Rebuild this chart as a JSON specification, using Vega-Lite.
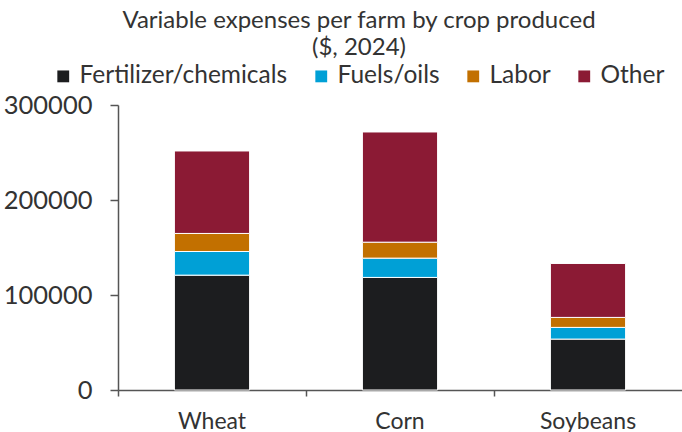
{
  "$schema": "https://vega.github.io/schema/vega-lite/v6.json",
  "width": 564,
  "height": 285,
  "autosize": {"type": "none"},
  "padding": {"left": 118, "top": 105, "right": 0, "bottom": 42},
  "background": "white",
  "title": {
    "text": ["Variable expenses per farm by crop produced", "($, 2024)"],
    "anchor": "middle",
    "dx": -41,
    "fontSize": 24,
    "fontWeight": "normal",
    "font": "Lato",
    "color": "#333333",
    "lineHeight": 27,
    "offset": 4
  },
  "data": {
    "values": [
      {"crop": "Wheat", "category": "Fertilizer/chemicals", "order": 1, "value": 120900},
      {"crop": "Wheat", "category": "Fuels/oils", "order": 2, "value": 24900},
      {"crop": "Wheat", "category": "Labor", "order": 3, "value": 19000},
      {"crop": "Wheat", "category": "Other", "order": 4, "value": 86800},
      {"crop": "Corn", "category": "Fertilizer/chemicals", "order": 1, "value": 118500},
      {"crop": "Corn", "category": "Fuels/oils", "order": 2, "value": 20300},
      {"crop": "Corn", "category": "Labor", "order": 3, "value": 16800},
      {"crop": "Corn", "category": "Other", "order": 4, "value": 116000},
      {"crop": "Soybeans", "category": "Fertilizer/chemicals", "order": 1, "value": 53600},
      {"crop": "Soybeans", "category": "Fuels/oils", "order": 2, "value": 12300},
      {"crop": "Soybeans", "category": "Labor", "order": 3, "value": 10500},
      {"crop": "Soybeans", "category": "Other", "order": 4, "value": 56800}
    ]
  },
  "mark": {"type": "bar", "width": {"band": 0.4}, "stroke": "white", "strokeWidth": 1},
  "encoding": {
    "x": {
      "field": "crop",
      "type": "nominal",
      "sort": ["Wheat", "Corn", "Soybeans"],
      "scale": {"paddingInner": 0, "paddingOuter": 0},
      "axis": {
        "title": null,
        "labelAngle": 0,
        "bandPosition": 0,
        "labelFont": "Lato",
        "labelFontSize": 23,
        "labelColor": "#333333",
        "labelPadding": 14,
        "domainColor": "#555555",
        "domainWidth": 1.5,
        "tickColor": "#555555",
        "tickWidth": 1.5,
        "tickSize": 6,
        "grid": false
      }
    },
    "y": {
      "field": "value",
      "type": "quantitative",
      "stack": "zero",
      "scale": {"domain": [0, 300000], "nice": false},
      "axis": {
        "title": null,
        "values": [0, 100000, 200000, 300000],
        "format": "d",
        "labelFont": "Lato",
        "labelFontSize": 25.5,
        "labelColor": "#333333",
        "labelPadding": 18,
        "domainColor": "#555555",
        "domainWidth": 1.5,
        "tickColor": "#555555",
        "tickWidth": 1.5,
        "tickSize": 8,
        "grid": false
      }
    },
    "color": {
      "field": "category",
      "type": "nominal",
      "sort": ["Fertilizer/chemicals", "Fuels/oils", "Labor", "Other"],
      "scale": {
        "domain": ["Fertilizer/chemicals", "Fuels/oils", "Labor", "Other"],
        "range": ["#1c1d1f", "#00a0d6", "#c27000", "#8b1a34"]
      },
      "legend": {
        "title": null,
        "orient": "none",
        "legendX": -67,
        "legendY": -41,
        "direction": "horizontal",
        "symbolType": "square",
        "symbolSize": 140,
        "symbolStrokeWidth": 0,
        "labelFont": "Lato",
        "labelFontSize": 24.5,
        "labelColor": "#333333",
        "labelOffset": 4,
        "labelLimit": 0,
        "columnPadding": 21
      }
    },
    "order": {"field": "order", "type": "quantitative"}
  },
  "config": {"view": {"stroke": null}}
}
